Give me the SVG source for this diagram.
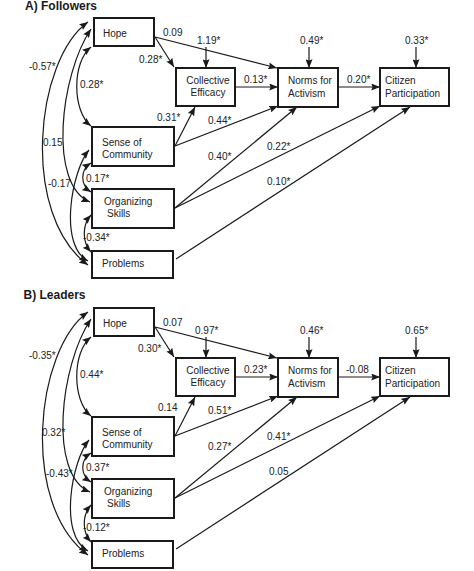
<svg xmlns="http://www.w3.org/2000/svg" width="474" height="571" viewBox="0 0 474 571">
<defs>
<style>
.box{fill:#fff;stroke:#1a1a1a;stroke-width:2}
.t{font-family:"Liberation Sans",Arial,sans-serif;font-size:10px;fill:#222}
.lb{font-family:"Liberation Sans",Arial,sans-serif;font-size:10px;fill:#222}
.ttl{font-family:"Liberation Sans",Arial,sans-serif;font-size:12px;font-weight:bold;fill:#1a1a1a}
.c{fill:none;stroke:#1a1a1a;stroke-width:1.2}
.a{marker-end:url(#ah)}
.d{marker-start:url(#ah);marker-end:url(#ah)}
</style>
<marker id="ah" viewBox="0 0 10 8" refX="10" refY="4" markerWidth="9" markerHeight="7" orient="auto-start-reverse" markerUnits="userSpaceOnUse">
<path d="M0,0 L10,4 L0,8 L1.5,4 z" fill="#1a1a1a"/>
</marker>
</defs>
<rect width="474" height="571" fill="#fff"/>

<!-- Panel A -->
<g id="panelA">
<text class="ttl" x="25" y="9.5">A) Followers</text>
<g id="a-connectors">
<path class="c a" d="M155,37 L174,67"/>
<path class="c a" d="M155,37 L277,68"/>
<path class="c a" d="M206,47 L206,68"/>
<path class="c a" d="M309,47 L309,68"/>
<path class="c a" d="M416,47 L416,68"/>
<path class="c a" d="M235,87 L278,87"/>
<path class="c a" d="M338,87 L380,87"/>
<path class="c a" d="M175,146 L195,107"/>
<path class="c a" d="M175,146 L278,106"/>
<path class="c a" d="M175,208 L297,107"/>
<path class="c a" d="M175,208 L380,106"/>
<path class="c a" d="M176,259 L410,107"/>
<path class="c d" d="M88,22 C35,60 20,215 88,265"/>
<path class="c d" d="M91,29 C60,75 48,185 90,202"/>
<path class="c d" d="M91,47 C72,62 72,111 91,126"/>
<path class="c d" d="M91,163 C80,170 80,185 91,192"/>
<path class="c d" d="M89,150 C72,170 58,245 88,261"/>
<path class="c d" d="M91,215 C82,225 82,242 91,252"/>
</g>
<g id="a-labels">
<text class="lb" x="163" y="35.6">0.09</text>
<text class="lb" x="197" y="43.6">1.19*</text>
<text class="lb" x="139" y="62.6">0.28*</text>
<text class="lb" x="29" y="69.6">-0.57*</text>
<text class="lb" x="80" y="87.6">0.28*</text>
<text class="lb" x="157" y="120.6">0.31*</text>
<text class="lb" x="208" y="123.6">0.44*</text>
<text class="lb" x="244" y="82.6">0.13*</text>
<text class="lb" x="300" y="43.6">0.49*</text>
<text class="lb" x="347" y="82.6">0.20*</text>
<text class="lb" x="405" y="43.6">0.33*</text>
<text class="lb" x="43" y="145.6">0.15</text>
<text class="lb" x="48" y="186.6">-0.17</text>
<text class="lb" x="208" y="159.6">0.40*</text>
<text class="lb" x="267" y="149.6">0.22*</text>
<text class="lb" x="267" y="184.6">0.10*</text>
<text class="lb" x="86" y="181.6">0.17*</text>
<text class="lb" x="83" y="240.6">-0.34*</text>
</g>
<g id="a-hope"><rect class="box" x="94" y="18" width="60" height="28"/><text class="t" x="103" y="36.5">Hope</text></g>
<g id="a-efficacy"><rect class="box" x="176" y="68" width="59" height="38"/><text class="t" x="208" y="84" text-anchor="middle">Collective</text><text class="t" x="208" y="96" text-anchor="middle">Efficacy</text></g>
<g id="a-norms"><rect class="box" x="278" y="68" width="60" height="39"/><text class="t" x="288" y="84">Norms for</text><text class="t" x="288" y="96.5">Activism</text></g>
<g id="a-citizen"><rect class="box" x="380" y="68" width="69" height="38"/><text class="t" x="385" y="84">Citizen</text><text class="t" x="385" y="96.5">Participation</text></g>
<g id="a-community"><rect class="box" x="92" y="127" width="82" height="39"/><text class="t" x="102" y="145.5">Sense of</text><text class="t" x="102" y="157.5">Community</text></g>
<g id="a-skills"><rect class="box" x="92" y="189" width="82" height="39"/><text class="t" x="104" y="204.5">Organizing</text><text class="t" x="107" y="216.5">Skills</text></g>
<g id="a-problems"><rect class="box" x="92" y="251" width="81" height="27"/><text class="t" x="102" y="267">Problems</text></g>
</g>

<!-- Panel B -->
<text class="ttl" x="23.5" y="299">B) Leaders</text>
<g id="panelB" transform="translate(0,290)">
<g id="b-connectors">
<path class="c a" d="M155,37 L174,67"/>
<path class="c a" d="M155,37 L277,68"/>
<path class="c a" d="M206,47 L206,68"/>
<path class="c a" d="M309,47 L309,68"/>
<path class="c a" d="M416,47 L416,68"/>
<path class="c a" d="M235,87 L278,87"/>
<path class="c a" d="M338,87 L380,87"/>
<path class="c a" d="M175,146 L195,107"/>
<path class="c a" d="M175,146 L278,106"/>
<path class="c a" d="M175,208 L297,107"/>
<path class="c a" d="M175,208 L380,106"/>
<path class="c a" d="M176,259 L410,107"/>
<path class="c d" d="M88,22 C35,60 20,215 88,265"/>
<path class="c d" d="M91,29 C60,75 48,185 90,202"/>
<path class="c d" d="M91,47 C72,62 72,111 91,126"/>
<path class="c d" d="M91,163 C80,170 80,185 91,192"/>
<path class="c d" d="M89,150 C72,170 58,245 88,261"/>
<path class="c d" d="M91,215 C82,225 82,242 91,252"/>
</g>
<g id="b-labels">
<text class="lb" x="163" y="35.6">0.07</text>
<text class="lb" x="195" y="43.6">0.97*</text>
<text class="lb" x="138" y="62">0.30*</text>
<text class="lb" x="29" y="69">-0.35*</text>
<text class="lb" x="80" y="87.6">0.44*</text>
<text class="lb" x="158" y="120.6">0.14</text>
<text class="lb" x="208" y="123.6">0.51*</text>
<text class="lb" x="244" y="82.6">0.23*</text>
<text class="lb" x="300" y="43.6">0.46*</text>
<text class="lb" x="346" y="82.6">-0.08</text>
<text class="lb" x="405" y="43.6">0.65*</text>
<text class="lb" x="42" y="145.6">0.32*</text>
<text class="lb" x="46" y="186.6">-0.43*</text>
<text class="lb" x="208" y="159.6">0.27*</text>
<text class="lb" x="267" y="149.6">0.41*</text>
<text class="lb" x="269" y="184.6">0.05</text>
<text class="lb" x="86" y="181">0.37*</text>
<text class="lb" x="83" y="240.6">-0.12*</text>
</g>
<g id="b-hope"><rect class="box" x="94" y="18" width="60" height="28"/><text class="t" x="103" y="36.5">Hope</text></g>
<g id="b-efficacy"><rect class="box" x="176" y="68" width="59" height="38"/><text class="t" x="208" y="84" text-anchor="middle">Collective</text><text class="t" x="208" y="96" text-anchor="middle">Efficacy</text></g>
<g id="b-norms"><rect class="box" x="278" y="68" width="60" height="39"/><text class="t" x="288" y="84">Norms for</text><text class="t" x="288" y="96.5">Activism</text></g>
<g id="b-citizen"><rect class="box" x="380" y="68" width="69" height="38"/><text class="t" x="385" y="84">Citizen</text><text class="t" x="385" y="96.5">Participation</text></g>
<g id="b-community"><rect class="box" x="92" y="127" width="82" height="39"/><text class="t" x="102" y="145.5">Sense of</text><text class="t" x="102" y="157.5">Community</text></g>
<g id="b-skills"><rect class="box" x="92" y="189" width="82" height="39"/><text class="t" x="104" y="204.5">Organizing</text><text class="t" x="107" y="216.5">Skills</text></g>
<g id="b-problems"><rect class="box" x="92" y="251" width="81" height="27"/><text class="t" x="102" y="267">Problems</text></g>
</g>
</svg>
